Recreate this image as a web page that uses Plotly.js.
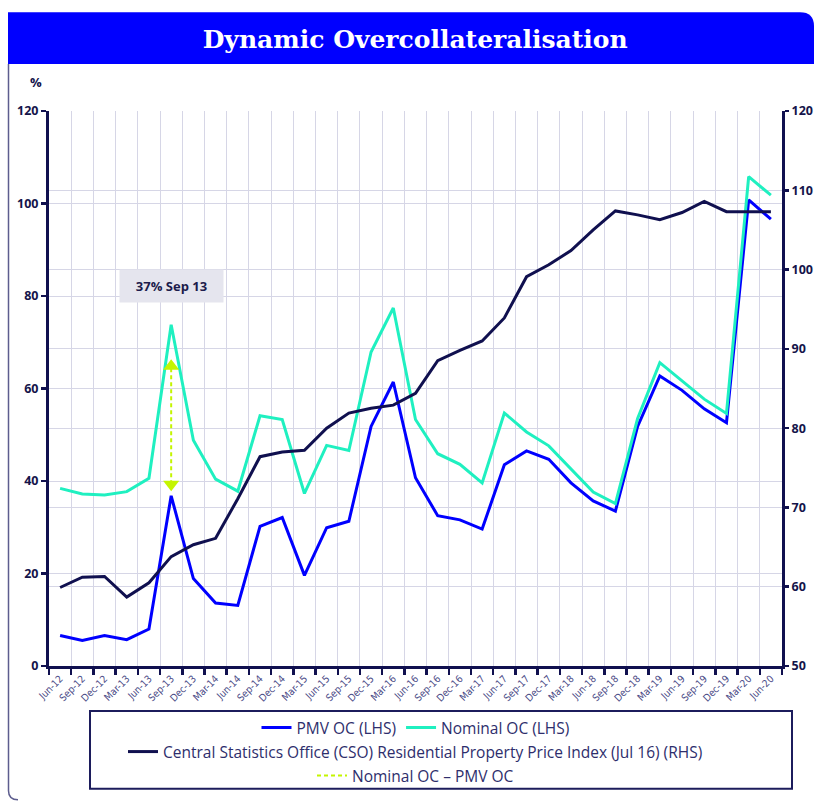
<!DOCTYPE html>
<html>
<head>
<meta charset="utf-8">
<script src="https://cdn.plot.ly/plotly-3.0.1.min.js"></script>
<style>
  html, body { margin: 0; padding: 0; background: #ffffff; }
  #chart { width: 814px; height: 804px; }
</style>
</head>
<body>
<div id="chart"></div>
<script>
// ---- Data ----
const quarters = ['Jun-12','Sep-12','Dec-12','Mar-13','Jun-13','Sep-13','Dec-13','Mar-14','Jun-14','Sep-14','Dec-14','Mar-15','Jun-15','Sep-15','Dec-15','Mar-16','Jun-16','Sep-16','Dec-16','Mar-17','Jun-17','Sep-17','Dec-17','Mar-18','Jun-18','Sep-18','Dec-18','Mar-19','Jun-19','Sep-19','Dec-19','Mar-20','Jun-20'];

const pmvOC = [6.6,5.5,6.6,5.7,8.0,36.8,18.9,13.6,13.1,30.2,32.1,19.6,29.9,31.3,51.8,61.4,40.7,32.5,31.6,29.6,43.5,46.5,44.7,39.6,35.7,33.5,51.8,62.7,59.6,55.6,52.6,100.8,96.6];

const nominalOC = [38.4,37.2,37.0,37.7,40.6,73.8,48.8,40.4,37.8,54.1,53.3,37.3,47.7,46.6,67.9,77.4,53.3,45.9,43.6,39.6,54.7,50.6,47.6,42.6,37.6,35.1,53.5,65.6,61.7,57.7,54.6,105.8,101.8];

const csoIndex = [59.9,61.2,61.3,58.7,60.5,63.8,65.3,66.1,71.1,76.4,77.0,77.2,80.0,81.9,82.5,82.9,84.4,88.5,89.8,91.0,93.9,99.1,100.6,102.4,105.0,107.4,106.9,106.3,107.2,108.6,107.3,107.3,107.3];

const highlightQuarter = 'Sep-13';
const leftTicks = [0,20,40,60,80,100,120];
const rightTicks = [50,60,70,80,90,100,110,120];

// ---- Derived ----
const hi = quarters.indexOf(highlightQuarter);
const gapTop = nominalOC[hi] - 9;
const gapBottom = pmvOC[hi] + 2.5;
const labelText = Math.round(pmvOC[hi]) + '% ' + highlightQuarter.replace('-', ' ');

const navy = '#10104f';
const blue = '#0000ff';
const teal = '#1ff0c0';
const lime = '#c4f500';

const traces = [
  {x: quarters, y: pmvOC, type: 'scatter', mode: 'lines', name: 'PMV OC (LHS)',
   line: {color: blue, width: 3}, legend: 'legend', hoverinfo: 'skip'},
  {x: quarters, y: nominalOC, type: 'scatter', mode: 'lines', name: 'Nominal OC (LHS)',
   line: {color: teal, width: 3}, legend: 'legend', hoverinfo: 'skip'},
  {x: quarters, y: csoIndex, type: 'scatter', mode: 'lines', yaxis: 'y2',
   name: 'Central Statistics Office (CSO) Residential Property Price Index (Jul 16) (RHS)',
   line: {color: navy, width: 3}, legend: 'legend2', hoverinfo: 'skip'},
  {x: [highlightQuarter, highlightQuarter], y: [gapBottom, gapTop], type: 'scatter', mode: 'lines',
   name: 'Nominal OC \u2013 PMV OC', line: {color: lime, width: 2, dash: '4px,3px'},
   legend: 'legend3', hoverinfo: 'skip'},
  {x: [highlightQuarter, highlightQuarter], y: [gapTop, gapBottom], type: 'scatter', mode: 'markers',
   showlegend: false, hoverinfo: 'skip',
   marker: {symbol: ['triangle-up','triangle-down'], size: 14, color: lime}}
];

const axFont = {family: 'Open Sans', size: 12.5, color: '#14144a', weight: 'bold'};
const legFont = {family: 'Open Sans', size: 15.5, color: '#2e2e6c'};

const plotL = 49, plotR = 32, plotT = 111, plotB = 137;
const W = 814, H = 804;
const pw = W - plotL - plotR, ph = H - plotT - plotB;
const px = v => (v - plotL) / pw;
const py = v => (H - plotB - v) / ph;

const legBase = {orientation: 'h', xanchor: 'center', x: 0.5, yanchor: 'middle',
  font: legFont, bgcolor: 'rgba(0,0,0,0)', itemwidth: 30, itemclick: false, itemdoubleclick: false};

// rounded-top-right blue title bar
const rx = 14 / pw, ry = 14 / ph;
const bx0 = px(8), bx1 = px(814), by0 = py(64), by1 = py(12);
const barPath = `M ${bx0},${by0} L ${bx0},${by1} L ${bx1 - rx},${by1} Q ${bx1},${by1} ${bx1},${by1 - ry} L ${bx1},${by0} Z`;
// left frame line with rounded bottom corner
const fx = px(8.5), fy0 = py(64), fy1 = py(792), fyEnd = py(801);
const framePath = `M ${fx},${fy0} L ${fx},${fy1} Q ${fx},${fyEnd} ${px(18)},${fyEnd}`;

const layout = {
  width: W, height: H,
  margin: {l: plotL, r: plotR, t: plotT, b: plotB, pad: 0},
  paper_bgcolor: '#ffffff', plot_bgcolor: '#ffffff',
  showlegend: true,
  title: {text: 'Dynamic Overcollateralisation', x: 0.51, xref: 'container', xanchor: 'center',
          y: 1 - 39 / H, yref: 'container', yanchor: 'middle',
          font: {family: 'DejaVu Serif', size: 25, color: '#ffffff', weight: 'bold'}},
  xaxis: {type: 'category', range: [-0.5, quarters.length - 0.5], tickson: 'boundaries',
          showgrid: true, gridcolor: '#d6d6e6', gridwidth: 1,
          showline: true, linecolor: navy, linewidth: 3,
          ticks: 'outside', ticklen: 6, tickwidth: 2.5, tickcolor: navy,
          tickangle: -45,
          tickfont: {family: 'DejaVu Sans Condensed, Liberation Sans Narrow, sans-serif', size: 10, color: '#4a4a86'},
          fixedrange: true, zeroline: false},
  yaxis: {range: [0, 120], tickvals: leftTicks, showgrid: true, gridcolor: '#d6d6e6', gridwidth: 1,
          showline: true, linecolor: navy, linewidth: 3,
          ticks: 'outside', ticklen: 5, tickwidth: 2.5, tickcolor: navy,
          tickfont: axFont, zeroline: false, fixedrange: true},
  yaxis2: {range: [50, 120], tickvals: rightTicks, overlaying: 'y', side: 'right',
           showgrid: true, gridcolor: '#d6d6e6', gridwidth: 1,
           showline: true, linecolor: navy, linewidth: 3,
           ticks: 'outside', ticklen: 4, tickwidth: 2.5, tickcolor: navy,
           tickfont: axFont, zeroline: false, fixedrange: true},
  legend: Object.assign({}, legBase, {y: py(728)}),
  legend2: Object.assign({}, legBase, {y: py(752)}),
  legend3: Object.assign({}, legBase, {y: py(776)}),
  shapes: [
    {type: 'path', xref: 'paper', yref: 'paper', path: barPath, fillcolor: '#0000ff', line: {width: 0}, layer: 'below'},
    {type: 'path', xref: 'paper', yref: 'paper', path: framePath, line: {color: '#5d5d8e', width: 1.5}},
    {type: 'rect', xref: 'paper', yref: 'paper', x0: px(90), x1: px(792), y0: py(712), y1: py(790),
     line: {color: '#1c1c5c', width: 2}, fillcolor: 'rgba(0,0,0,0)'}
  ],
  annotations: [
    {xref: 'paper', yref: 'paper', x: px(36), y: py(82), xanchor: 'center', yanchor: 'middle',
     text: '%', showarrow: false,
     font: {family: 'Open Sans', size: 13, color: '#14144a', weight: 'bold'}},
    {x: highlightQuarter, y: nominalOC[hi] + 8.3, xref: 'x', yref: 'y', text: labelText, showarrow: false,
     bgcolor: '#e5e5ee', borderpad: 7, width: 89,
     font: {family: 'Open Sans', size: 13, color: '#1c1c4c', weight: 'bold'}}
  ]
};

Plotly.newPlot('chart', traces, layout, {staticPlot: true, displayModeBar: false});
</script>
</body>
</html>
